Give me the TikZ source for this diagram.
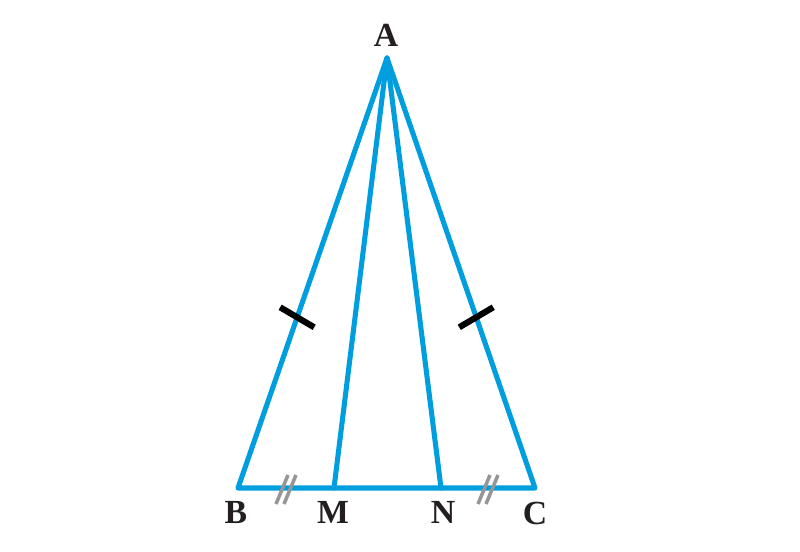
\documentclass[tikz,border=0pt]{standalone}
\usepackage{fontspec}
\setmainfont{Liberation Serif}
\usepackage{tikz}
\usetikzlibrary{calc}
\definecolor{SideBlue}{RGB}{0,158,222}
\definecolor{LabelInk}{RGB}{35,31,32}
\definecolor{MarkGray}{RGB}{150,150,150}
\tikzset{
  side/.style={line width=3.6pt,SideBlue,line cap=round,line join=round},
  eqmark/.style={line width=4.4pt,black},
  halfmark/.style={line width=2.5pt,MarkGray},
  vlabel/.style={font=\fontsize{24}{28}\selectfont\bfseries,text=LabelInk,inner sep=0pt},
}
\begin{document}
\begin{tikzpicture}[x=0.025cm,y=-0.025cm]
  \useasboundingbox (0,0) rectangle (800,551);
  % vertices
  \coordinate (A) at (387,58);
  \coordinate (B) at (238,488);
  \coordinate (C) at (535,488);
  \coordinate (M) at (334,488);
  \coordinate (N) at (441,488);
  % triangle and cevians
  \draw[side] (B) -- (A) -- (C) -- cycle;
  \draw[side] (A) -- (M);
  \draw[side] (A) -- (N);
  % equal sides AB = AC
  \coordinate (tAB) at ($(A)!0.603!(B)$);
  \coordinate (tAC) at ($(A)!0.603!(C)$);
  \draw[eqmark] ([shift={(-17,-10)}]tAB) -- ([shift={(17,10)}]tAB);
  \draw[eqmark] ([shift={(-17,10)}]tAC) -- ([shift={(17,-10)}]tAC);
  % equal segments BM = NC
  \coordinate (tBM) at (286,489);
  \coordinate (tNC) at (488,489);
  \foreach \dx in {-4,4}{
    \draw[halfmark] ([shift={(\dx-6,15)}]tBM) -- ([shift={(\dx+6,-14)}]tBM);
    \draw[halfmark] ([shift={(\dx-6,15)}]tNC) -- ([shift={(\dx+6,-14)}]tNC);
  }
  % labels
  \node[vlabel] (lA) at (386,35) {A};
  \node[vlabel] (lB) at (236,512) {B};
  \node[vlabel] (lM) at (333,512) {M};
  \node[vlabel] (lN) at (443,512) {N};
  \node[vlabel] (lC) at (535,513) {C};
\end{tikzpicture}
\end{document}
